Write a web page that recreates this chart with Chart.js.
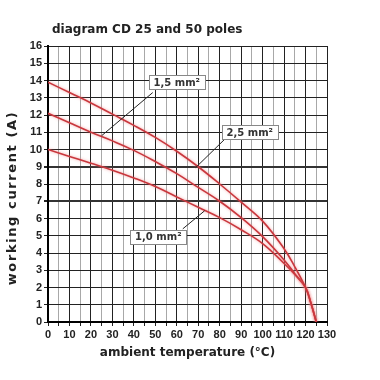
<!DOCTYPE html>
<html><head><meta charset="utf-8">
<script src="https://cdn.jsdelivr.net/npm/chart.js@4.4.0/dist/chart.umd.min.js"></script>
<style>html,body{margin:0;padding:0;background:#fff}#wrap{width:380px;height:380px;position:relative}</style>
</head><body><div id="wrap"><canvas id="c"></canvas></div>
<script>
const chartTitle = 'diagram CD 25 and 50 poles';
const xTitle = 'ambient temperature (°C)';
const yTitle = 'working current (A)';
const temps = [0,10,20,30,40,50,60,70,80,90,100,110,115,120,122.5,125];
const current25 = [13.9,13.3,12.7,12.05,11.4,10.7,9.9,9.0,8.0,6.95,5.85,4.25,3.2,2.0,1.1,0];
const current15 = [12.1,11.55,11.0,10.5,9.95,9.3,8.6,7.8,7.0,6.05,4.95,3.6,2.8,2.0,1.1,0];
const current10 = [10.0,9.6,9.2,8.8,8.35,7.85,7.25,6.65,6.05,5.35,4.55,3.4,2.75,2.0,1.1,0];
const seriesNames = ['2,5 mm²','1,5 mm²','1,0 mm²'];
const xMin = 0, xMax = 130, yMin = 0, yMax = 16;

const pts = arr => temps.map((t,i)=>({x:t,y:arr[i]}));
const lineStyle = {borderColor:'#c9373d',borderWidth:1.6,pointRadius:0,fill:false,tension:0.4};

// callout labels: [text, box centre (x,y), leader start, leader end] in data units
const callouts = [
  [seriesNames[1], [60,13.9], [48.8,13.3], [25,10.8]],
  [seriesNames[0], [94,11.0], [82.8,10.65], [68.8,8.95]],
  [seriesNames[2], [51.4,4.95], [62.8,5.4], [73,6.45]]
];

const decor = {
  id:'decor',
  beforeDatasetsDraw(chart){
    const ctx = chart.ctx;
    ctx.save();
    ctx.shadowColor='rgba(240,120,120,0.7)';
    ctx.shadowBlur=3;
  },
  afterDatasetsDraw(chart){
    const ctx = chart.ctx; ctx.restore();
    const xs = chart.scales.x, ys = chart.scales.y;
    ctx.save();
    ctx.font = 'bold 10px "DejaVu Sans"';
    callouts.forEach(([txt,c,a,b])=>{
      ctx.strokeStyle='#222'; ctx.lineWidth=1;
      ctx.beginPath();
      ctx.moveTo(xs.getPixelForValue(a[0]), ys.getPixelForValue(a[1]));
      ctx.lineTo(xs.getPixelForValue(b[0]), ys.getPixelForValue(b[1]));
      ctx.stroke();
      const cx = xs.getPixelForValue(c[0]), cy = ys.getPixelForValue(c[1]);
      const w = ctx.measureText(txt).width + 10, h = 14;
      ctx.fillStyle='#fff'; ctx.fillRect(Math.round(cx-w/2)+0.5, Math.round(cy-h/2)+0.5, Math.round(w), h);
      ctx.strokeStyle='#888'; ctx.strokeRect(Math.round(cx-w/2)+0.5, Math.round(cy-h/2)+0.5, Math.round(w), h);
      ctx.fillStyle='#333'; ctx.textAlign='center'; ctx.textBaseline='middle';
      ctx.fillText(txt, cx, cy+1);
    });
    // chart title
    ctx.font = 'bold 12px "DejaVu Sans"';
    ctx.fillStyle='#222'; ctx.textAlign='left'; ctx.textBaseline='middle';
    ctx.fillText(chartTitle, chart.chartArea.left+4, 30);
    // y axis title (letter-spaced, rotated)
    ctx.translate(13, 198);
    ctx.rotate(-Math.PI/2);
    ctx.font = 'bold 13px "DejaVu Sans"';
    try { ctx.letterSpacing = '1.6px'; } catch(e) {}
    ctx.textAlign='center';
    ctx.fillText(yTitle, 0, 0);
    ctx.restore();
  }
};

new Chart(document.getElementById('c'), {
  type:'line',
  data:{datasets:[
    Object.assign({label:seriesNames[0],data:pts(current25)},lineStyle),
    Object.assign({label:seriesNames[1],data:pts(current15)},lineStyle),
    Object.assign({label:seriesNames[2],data:pts(current10)},lineStyle)
  ]},
  options:{
    responsive:true, maintainAspectRatio:false, animation:false,
    layout:{padding:{top:46,right:53,bottom:20,left:0}},
    plugins:{legend:{display:false},tooltip:{enabled:false},title:{display:false}},
    scales:{
      x:{type:'linear',min:xMin,max:xMax,
        afterFit(s){s.height=38;},
        ticks:{stepSize:5,autoSkip:false,maxRotation:0,padding:2,color:'#222',
          font:{family:'"Liberation Sans"',weight:'bold',size:11},
          callback:v=> v%10===0 ? String(v) : ''},
        grid:{color:c=> c.tick && c.tick.value%10===0 ? '#222' : '#a8a8a8', lineWidth:1, tickLength:4,
          tickColor:'#222'},
        border:{color:'#000',width:2},
        title:{display:true,text:xTitle,color:'#222',padding:0,font:{family:'"DejaVu Sans"',weight:'bold',size:12}}
      },
      y:{type:'linear',min:yMin,max:yMax,
        afterFit(s){s.width=48;},
        ticks:{stepSize:1,autoSkip:false,padding:2,color:'#222',
          font:{family:'"Liberation Sans"',weight:'bold',size:11}},
        grid:{color:c=> (c.tick && (c.tick.value===7||c.tick.value===9)) ? '#333' : '#222',
          lineWidth:c=> (c.tick && (c.tick.value===7||c.tick.value===9)) ? 2 : 1, tickLength:4, tickColor:'#222'},
        border:{color:'#000',width:2},
        title:{display:false}
      }
    }
  },
  plugins:[decor]
});
</script></body></html>
